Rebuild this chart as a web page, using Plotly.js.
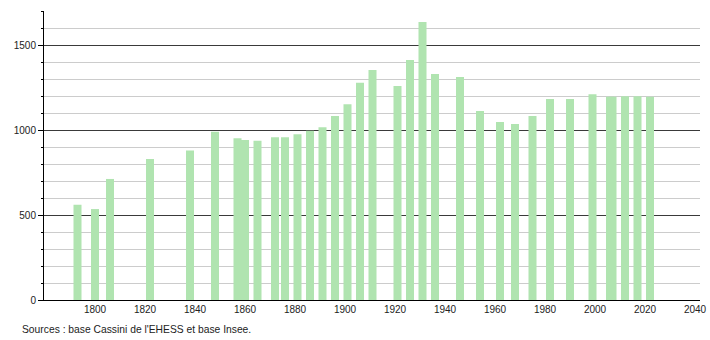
<!DOCTYPE html>
<html>
<head>
<meta charset="utf-8">
<script src="https://cdn.plot.ly/plotly-3.0.1.min.js"></script>
<style>
html,body{margin:0;padding:0;background:#fff;}
#chart{width:710px;height:340px;}
</style>
</head>
<body>
<div id="chart"></div>
<script>
// Census years and population
const years = [1793, 1800, 1806, 1822, 1838, 1848, 1857, 1860, 1865, 1872, 1876, 1881, 1886, 1891, 1896, 1901, 1906, 1911, 1921, 1926, 1931, 1936, 1946, 1954, 1962, 1968, 1975, 1982, 1990, 1999, 2006, 2007, 2012, 2017, 2022];
const population = [560, 535, 712, 830, 880, 990, 951, 941, 937, 957, 957, 975, 996, 1016, 1082, 1151, 1278, 1353, 1259, 1412, 1635, 1329, 1312, 1112, 1047, 1035, 1082, 1182, 1182, 1210, 1196, 1196, 1198, 1198, 1196];
const xTicks = [1800, 1820, 1840, 1860, 1880, 1900, 1920, 1940, 1960, 1980, 2000, 2020, 2040];
const yTicks = [0, 500, 1000, 1500];
const sourceText = "Sources : base Cassini de l'EHESS et base Insee.";

const trace = {
  type: 'bar',
  x: years,
  y: population,
  width: years.map(() => 3.2),
  marker: {color: 'rgb(176,228,176)', line: {width: 0}},
  hoverinfo: 'x+y'
};

const layout = {
  width: 710,
  height: 340,
  margin: {l: 44, r: 10, t: 11, b: 40},
  paper_bgcolor: '#fff',
  plot_bgcolor: '#fff',
  showlegend: false,
  font: {family: 'Liberation Sans, Arial, sans-serif', size: 10, color: '#222'},
  xaxis: {
    range: [1779.6, 2042],
    tickvals: xTicks,
    ticks: '',
    showgrid: false,
    zeroline: false,
    showline: true,
    linecolor: '#000',
    linewidth: 1,
    tickfont: {size: 10, color: '#222'},
    fixedrange: true
  },
  yaxis: {
    range: [0, 1700],
    tickvals: yTicks,
    ticks: 'outside',
    ticklen: 5,
    tickcolor: '#000',
    showgrid: true,
    gridcolor: '#3a3a3a',
    gridwidth: 1,
    zeroline: false,
    showline: true,
    linecolor: '#000',
    linewidth: 1,
    tickfont: {size: 10, color: '#222'},
    minor: {dtick: 100, tick0: 0, showgrid: true, gridcolor: '#cccccc', gridwidth: 1, ticks: 'outside', ticklen: 2, tickcolor: '#000'},
    fixedrange: true
  },
  annotations: [{
    text: sourceText,
    xref: 'paper', yref: 'paper',
    x: -24/656, y: 0,
    xanchor: 'left', yanchor: 'top',
    yshift: -22,
    showarrow: false,
    font: {size: 10.3, color: '#222'}
  }]
};

Plotly.newPlot('chart', [trace], layout, {displayModeBar: false, staticPlot: true});
</script>
</body>
</html>
